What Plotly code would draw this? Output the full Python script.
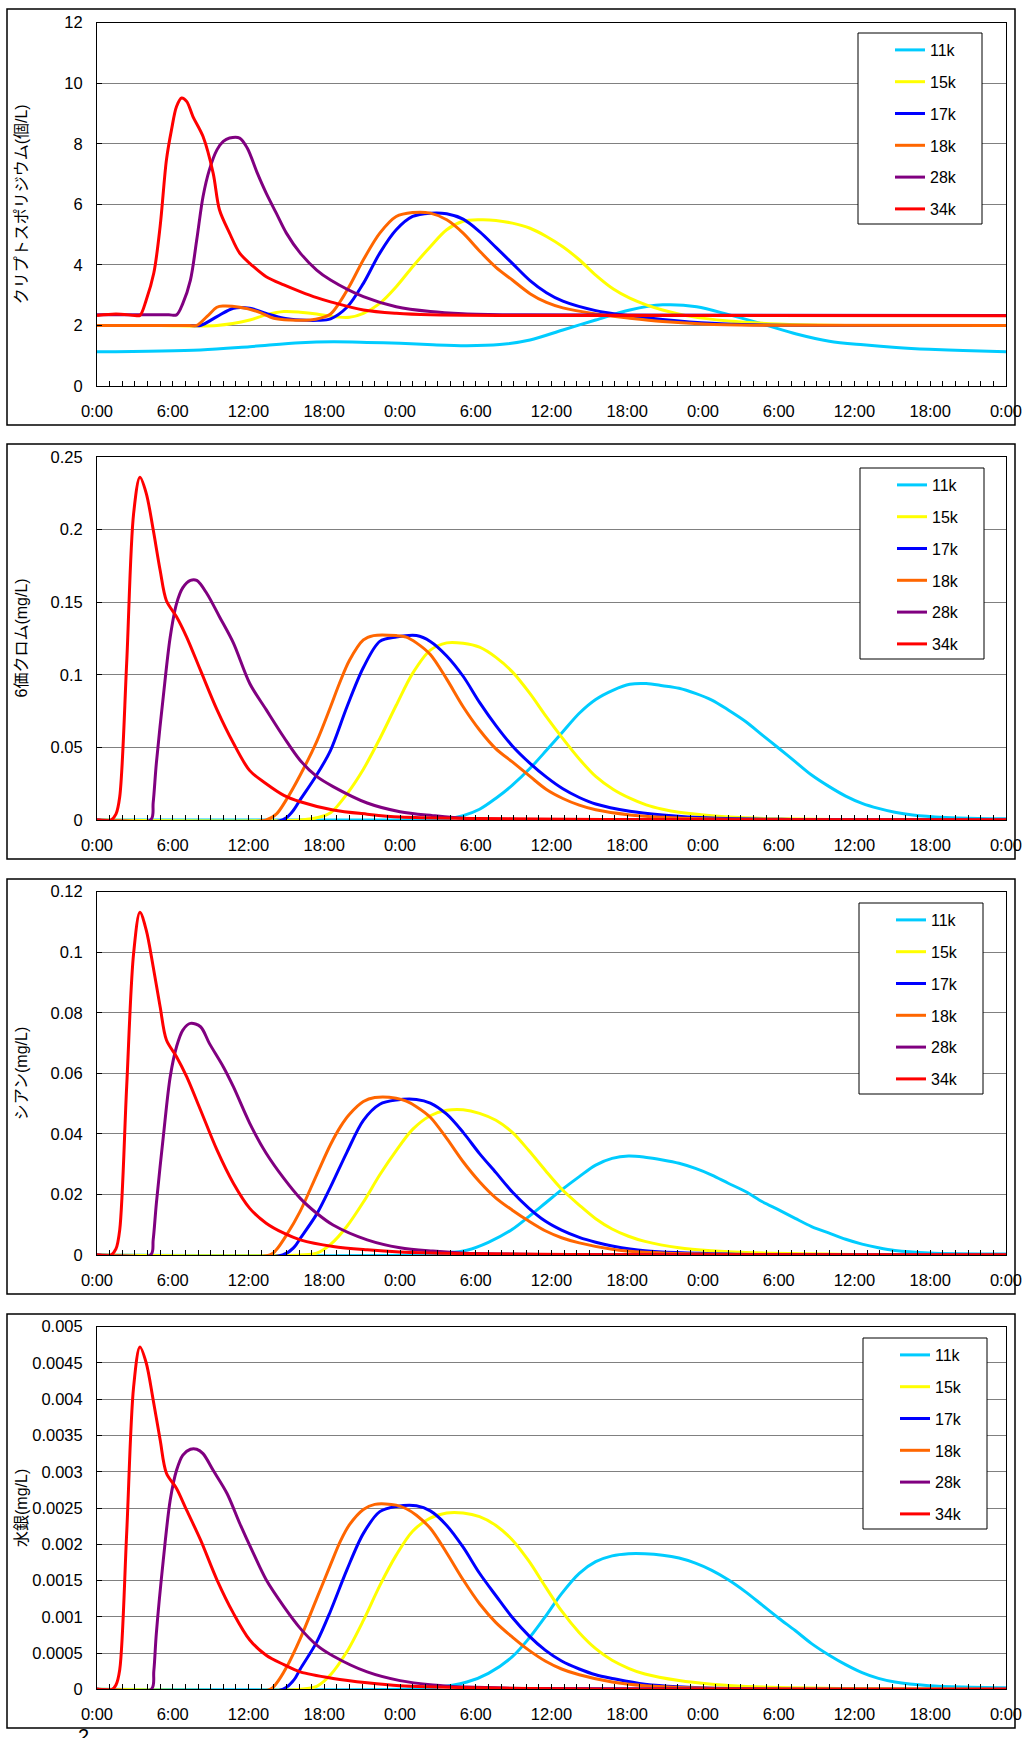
import plotly.graph_objects as go

# ---------------- data (hours from start, values) ----------------
SERIES = ["11k", "15k", "17k", "18k", "28k", "34k"]
COLORS = ["#00CCFF", "#FFFF00", "#0000FF", "#FF6600", "#800080", "#FF0000"]

TICK_HOURS = [0, 6, 12, 18, 24, 30, 36, 42, 48, 54, 60, 66, 72]
TICK_LABELS = ["0:00", "6:00", "12:00", "18:00", "0:00", "6:00", "12:00",
               "18:00", "0:00", "6:00", "12:00", "18:00", "0:00"]

Y_TITLES = ["クリプトスポリジウム(個/L)", "6価クロム(mg/L)", "シアン(mg/L)", "水銀(mg/L)"]
Y_MAX = [12, 0.25, 0.12, 0.005]
Y_STEP = [2, 0.05, 0.02, 0.0005]

# Panel 1: Cryptosporidium
CRY_11K_T = [0, 8.2, 12.1, 16.1, 18.7, 21.4, 24, 26.6, 29.3, 31.9, 34.3, 36.9, 39.5, 42.2, 44.8,
             47.5, 50.1, 52.7, 55.4, 58, 60.7, 63.3, 65.9, 68.6, 72]
CRY_11K = [1.13, 1.19, 1.30, 1.43, 1.46, 1.44, 1.41, 1.36, 1.33, 1.37, 1.52, 1.85, 2.18, 2.51, 2.68,
           2.62, 2.35, 2.05, 1.72, 1.48, 1.36, 1.27, 1.21, 1.17, 1.13]
CRY_15K_T = [0, 5, 9.5, 12.1, 13.4, 14.8, 16.1, 17.4, 18.5, 20.0, 21.1, 22.4, 23.7, 25.0, 26.4, 27.7,
             29.0, 30.3, 31.6, 32.9, 34.3, 35.6, 36.9, 38.2, 39.5, 40.9, 42.2, 43.5, 44.8, 47, 50,
             54, 58, 72]
CRY_15K = [2.0, 2.0, 2.0, 2.18, 2.35, 2.46, 2.44, 2.38, 2.3, 2.27, 2.4, 2.73, 3.28, 3.94, 4.6, 5.16,
           5.44, 5.49, 5.47, 5.38, 5.21, 4.94, 4.6, 4.17, 3.66, 3.2, 2.9, 2.68, 2.51, 2.3, 2.15,
           2.05, 2.01, 2.0]
CRY_17K_T = [0, 4, 7.5, 8.2, 9.5, 10.8, 12.1, 13.4, 14.8, 16.1, 17.5, 18.5, 19.8, 21.1, 22.4, 23.7,
             25.0, 26.4, 27.7, 29.0, 30.3, 31.6, 32.9, 34.3, 35.6, 36.9, 39.5, 42.2, 44.8, 48.7, 52, 72]
CRY_17K = [2.0, 2.0, 2.0, 2.0, 2.29, 2.57, 2.57, 2.40, 2.24, 2.18, 2.17, 2.22, 2.6, 3.39, 4.39, 5.16,
           5.60, 5.71, 5.69, 5.51, 5.10, 4.58, 4.05, 3.48, 3.08, 2.8, 2.49, 2.32, 2.2, 2.07, 2.02, 2.0]
CRY_18K_T = [0, 4, 7.3, 7.9, 8.7, 9.5, 10.0, 11.3, 12.7, 14.0, 15.3, 16.9, 17.7, 18.5, 19.2, 20.0,
             21.1, 22.4, 23.7, 25.0, 26.4, 27.7, 29.0, 30.3, 31.6, 32.9, 34.3, 35.6, 36.9, 39.5,
             42.2, 44.8, 48, 52, 72]
CRY_18K = [2.0, 2.0, 2.0, 2.0, 2.29, 2.6, 2.64, 2.6, 2.46, 2.24, 2.18, 2.18, 2.24, 2.38, 2.75, 3.3,
           4.17, 5.05, 5.6, 5.73, 5.71, 5.49, 5.05, 4.46, 3.92, 3.5, 3.05, 2.76, 2.58, 2.38,
           2.24, 2.13, 2.05, 2.01, 2.0]
CRY_28K_T = [0, 3, 5.7, 6.3, 6.8, 7.4, 7.9, 8.4, 8.9, 9.5, 10.0, 10.5, 11.3, 11.9, 12.7, 13.4, 14.2,
             15.0, 16.1, 17.4, 18.5, 21.1, 23.7, 26.4, 29.0, 34, 72]
CRY_28K = [2.35, 2.35, 2.35, 2.35, 2.73, 3.5, 4.83, 6.26, 7.14, 7.80, 8.08, 8.19, 8.19, 7.86, 7.03,
           6.37, 5.71, 5.05, 4.39, 3.83, 3.5, 2.95, 2.62, 2.46, 2.39, 2.35, 2.33]
CRY_34K_T = [0, 1.5, 3.0, 3.4, 3.9, 4.5, 5.0, 5.5, 5.9, 6.3, 6.7, 7.1, 7.6, 8.4, 9.2, 9.7, 10.5, 11.3,
             12.4, 13.4, 14.8, 16.1, 17.4, 18.5, 21.1, 23.7, 26.4, 34, 72]
CRY_34K = [2.33, 2.38, 2.33, 2.33, 2.84, 3.73, 5.27, 7.47, 8.46, 9.23, 9.51, 9.40, 8.9, 8.24, 7.03, 5.82,
           5.05, 4.39, 3.94, 3.61, 3.34, 3.12, 2.92, 2.78, 2.51, 2.40, 2.35, 2.33, 2.32]

# Panel 2: hexavalent chromium
CR_11K_T = [0, 24, 26.6, 27.7, 29.0, 30.3, 31.6, 32.9, 34.3, 35.6, 36.9, 38.2, 39.5, 40.9, 42.2, 43.5,
            44.8, 46.1, 47.4, 48.7, 50.0, 51.4, 52.7, 54.0, 55.3, 56.6, 58.0, 59.3, 60.6, 61.9, 63.2,
            64.6, 67.2, 69.8, 72]
CR_11K = [0, 0, 0.0003, 0.0008, 0.003, 0.0074, 0.015, 0.024, 0.0356, 0.048, 0.0608, 0.0735, 0.083,
          0.0895, 0.0935, 0.094, 0.0925, 0.0907, 0.0872, 0.0826, 0.0758, 0.0677, 0.0585, 0.0494, 0.0402,
          0.031, 0.023, 0.0165, 0.0115, 0.008, 0.0053, 0.0034, 0.0017, 0.001, 0.0008]
CR_15K_T = [0, 16.1, 17.4, 18.5, 19.8, 21.1, 22.4, 23.7, 25.0, 26.4, 27.7, 29.0, 30.3, 31.6, 32.9, 34.3,
            35.6, 36.9, 38.2, 39.5, 40.9, 42.2, 43.5, 44.8, 46.1, 48.7, 51.4, 54, 60, 72]
CR_15K = [0, 0, 0.0015, 0.005, 0.018, 0.035, 0.056, 0.079, 0.101, 0.117, 0.122, 0.1217, 0.119, 0.112,
          0.102, 0.087, 0.071, 0.056, 0.042, 0.030, 0.021, 0.015, 0.0104, 0.0074, 0.0053, 0.003,
          0.0015, 0.0008, 0.0003, 0]
CR_17K_T = [0, 14.7, 15.5, 16.1, 17.4, 18.5, 19.8, 21.1, 22.4, 23.7, 25.3, 26.4, 27.7, 29.0, 30.3, 31.6,
            32.9, 34.3, 35.6, 36.9, 38.2, 39.5, 42.2, 44.8, 48.7, 55, 72]
CR_17K = [0, 0, 0.006, 0.014, 0.031, 0.048, 0.078, 0.105, 0.123, 0.126, 0.127, 0.123, 0.113, 0.099,
          0.081, 0.065, 0.051, 0.039, 0.0295, 0.0215, 0.0155, 0.011, 0.006, 0.0035, 0.0013, 0.0004, 0]
CR_18K_T = [0, 13.4, 14.2, 15.0, 16.1, 17.4, 18.5, 19.2, 20.0, 21.1, 21.9, 23.7, 24.5, 25.3, 26.4, 27.7,
            29.0, 30.3, 31.6, 32.9, 34.3, 35.6, 36.9, 38.2, 39.5, 42.2, 44.8, 48, 54, 72]
CR_18K = [0, 0, 0.004, 0.014, 0.031, 0.054, 0.078, 0.094, 0.110, 0.124, 0.127, 0.127, 0.126, 0.122,
          0.114, 0.097, 0.078, 0.062, 0.049, 0.040, 0.030, 0.021, 0.0148, 0.0102, 0.007, 0.0035,
          0.0019, 0.0008, 0.0002, 0]
CR_28K_T = [0, 4.25, 4.45, 4.7, 5.25, 5.8, 6.3, 6.8, 7.4, 7.9, 8.7, 9.7, 10.8, 12.1, 13.4, 14.8, 16.1,
            17.4, 18.7, 21.4, 24, 26.6, 29.3, 35, 72]
CR_28K = [0, 0, 0.012, 0.039, 0.085, 0.126, 0.149, 0.160, 0.165, 0.165, 0.156, 0.140, 0.122, 0.094,
          0.076, 0.057, 0.041, 0.030, 0.023, 0.0117, 0.0057, 0.003, 0.001, 0.0003, 0]
CR_34K_T = [0, 1.1, 1.5, 1.8, 2.35, 2.9, 3.4, 3.9, 4.45, 5.0, 5.5, 6.3, 7.1, 8.2, 9.5, 10.8, 12.1, 13.4,
            14.8, 16.1, 18.7, 21.4, 24, 30, 40, 72]
CR_34K = [0, 0, 0.004, 0.016, 0.108, 0.211, 0.236, 0.225, 0.2, 0.172, 0.151, 0.140, 0.126, 0.103,
          0.076, 0.053, 0.034, 0.025, 0.017, 0.0126, 0.0069, 0.004, 0.002, 0.001, 0.0003, 0]

# Panel 3: cyanide
CN_11K_T = [0, 25, 27.5, 29.3, 31, 32.9, 34.2, 35.5, 36.8, 38.2, 39.5, 40.8, 42.1, 43.4, 44.8, 46.1, 47.4,
            48.7, 50.0, 51.4, 52.7, 54.0, 55.3, 56.6, 58.0, 59.3, 60.6, 61.9, 63.2, 65.9, 72]
CN_11K = [0, 0, 0.0006, 0.0016, 0.0042, 0.0085, 0.0127, 0.0171, 0.0215, 0.0259, 0.0297, 0.0319, 0.0327,
          0.0323, 0.0314, 0.0303, 0.0286, 0.0264, 0.0237, 0.0209, 0.0176, 0.0149, 0.0121, 0.0094, 0.0072,
          0.0052, 0.0036, 0.0024, 0.0015, 0.0007, 0.0003]
CN_15K_T = [0, 16.1, 17.4, 18.5, 19.8, 21.1, 22.4, 23.7, 25.0, 26.4, 27.7, 29.0, 30.3, 31.6, 32.9, 34.2,
            35.5, 36.8, 38.2, 39.5, 40.8, 42.1, 43.4, 46.1, 48.7, 51.4, 60, 72]
CN_15K = [0, 0, 0.0006, 0.0035, 0.0095, 0.0175, 0.0265, 0.0345, 0.0415, 0.046, 0.0478, 0.048, 0.0468,
          0.0445, 0.0405, 0.0345, 0.028, 0.0218, 0.0165, 0.012, 0.0086, 0.0062, 0.0045, 0.0024, 0.0014,
          0.0008, 0.0002, 0]
CN_17K_T = [0, 14.7, 15.6, 16.1, 17.4, 18.5, 19.8, 21.1, 22.4, 23.7, 25.3, 26.4, 27.7, 29.0, 30.3, 31.6,
            32.9, 34.2, 35.5, 36.8, 38.2, 39.5, 40.8, 43.4, 50, 72]
CN_17K = [0, 0, 0.0025, 0.0055, 0.0135, 0.0225, 0.034, 0.0445, 0.0498, 0.0512, 0.0514, 0.0502, 0.0465,
          0.0405, 0.0335, 0.0272, 0.0208, 0.0155, 0.0112, 0.0082, 0.0058, 0.0042, 0.003, 0.0014, 0.0003, 0]
CN_18K_T = [0, 13.7, 14.2, 15.0, 16.1, 17.4, 18.5, 19.3, 20.0, 21.1, 22.0, 23.7, 24.5, 25.3, 26.4, 27.7,
            29.0, 30.3, 31.6, 32.9, 34.2, 35.5, 36.8, 38.2, 40.8, 43.4, 50, 72]
CN_18K = [0, 0, 0.0017, 0.0065, 0.0145, 0.0265, 0.0365, 0.0425, 0.0465, 0.0507, 0.052, 0.0518, 0.0508,
          0.049, 0.0455, 0.0385, 0.0308, 0.0242, 0.0188, 0.0148, 0.0112, 0.008, 0.0057, 0.004, 0.0019,
          0.0009, 0.0002, 0]
CN_28K_T = [0, 4.25, 4.45, 4.7, 5.25, 5.8, 6.3, 6.8, 7.4, 8.2, 8.9, 10.0, 10.8, 12.1, 13.4, 14.8, 16.1,
            17.4, 18.7, 21.4, 24, 26.6, 29.3, 35, 72]
CN_28K = [0, 0, 0.005, 0.017, 0.039, 0.0589, 0.0688, 0.0743, 0.0765, 0.0754, 0.0699, 0.0622, 0.0556,
          0.0435, 0.0336, 0.0253, 0.0187, 0.0138, 0.0099, 0.005, 0.0024, 0.0013, 0.0006, 0.0002, 0]
CN_34K_T = [0, 1.1, 1.5, 1.8, 2.35, 2.9, 3.4, 3.9, 4.45, 5.0, 5.5, 6.3, 7.1, 8.2, 9.5, 10.8, 12.1, 13.4,
            14.8, 16.1, 18.7, 21.4, 24, 30, 40, 72]
CN_34K = [0, 0, 0.002, 0.0083, 0.0556, 0.0996, 0.1132, 0.1073, 0.0952, 0.082, 0.071, 0.0655, 0.0589,
          0.0479, 0.0347, 0.0237, 0.0154, 0.0105, 0.0072, 0.005, 0.0028, 0.0017, 0.001, 0.0004, 0.0001, 0]

# Panel 4: mercury
HG_11K_T = [0, 24, 26.6, 29.3, 31, 32.9, 34.2, 35.5, 36.8, 38.2, 39.5, 40.8, 42.1, 43.4, 44.8, 46.1, 47.4,
            48.7, 50.0, 51.4, 52.7, 54.0, 55.3, 56.6, 58.0, 59.3, 60.6, 61.9, 63.2, 65.9, 68.6, 72]
HG_11K = [0, 0, 0.00002, 0.0001, 0.00022, 0.00045, 0.0007, 0.001, 0.00132, 0.0016, 0.00176, 0.00184,
          0.00187, 0.00187, 0.00185, 0.00181, 0.00174, 0.00164, 0.00151, 0.00134, 0.00116, 0.00098,
          0.00081, 0.00063, 0.00047, 0.00034, 0.00023, 0.00015, 0.0001, 0.00005, 0.00003, 0.00002]
HG_15K_T = [0, 16.1, 17.4, 18.5, 19.8, 21.1, 22.4, 23.7, 25.0, 26.4, 27.7, 29.0, 30.3, 31.6, 32.9, 34.2,
            35.5, 36.8, 38.2, 39.5, 40.8, 42.1, 43.4, 46.1, 48.7, 51.4, 60, 72]
HG_15K = [0, 0, 0.00004, 0.0002, 0.00052, 0.00095, 0.00143, 0.00185, 0.00218, 0.00236, 0.00243,
          0.00243, 0.00238, 0.00226, 0.00206, 0.00177, 0.00142, 0.00108, 0.00078, 0.00056, 0.0004,
          0.00029, 0.00021, 0.00012, 0.00007, 0.00004, 0.00001, 0]
HG_17K_T = [0, 14.7, 15.6, 16.1, 17.4, 18.5, 19.8, 21.1, 22.4, 23.7, 25.3, 26.4, 27.7, 29.0, 30.3, 31.6,
            32.9, 34.2, 35.5, 36.8, 38.2, 39.5, 40.8, 43.4, 50, 72]
HG_17K = [0, 0, 0.00013, 0.00028, 0.00065, 0.00108, 0.00165, 0.00215, 0.00245, 0.00252, 0.00253,
          0.00246, 0.00226, 0.00196, 0.0016, 0.00129, 0.00099, 0.00074, 0.00054, 0.00039, 0.00028,
          0.0002, 0.00015, 0.00007, 0.00001, 0]
HG_18K_T = [0, 13.7, 14.2, 15.0, 16.1, 17.4, 18.5, 19.3, 20.0, 21.1, 22.0, 23.7, 24.5, 25.3, 26.4, 27.7,
            29.0, 30.3, 31.6, 32.9, 34.2, 35.5, 36.8, 38.2, 40.8, 43.4, 50, 72]
HG_18K = [0, 0, 0.00008, 0.0003, 0.0007, 0.00125, 0.00172, 0.00205, 0.00227, 0.00248, 0.00255, 0.00254,
          0.00249, 0.0024, 0.00222, 0.00188, 0.00151, 0.00118, 0.00092, 0.00072, 0.00054, 0.00039,
          0.00028, 0.0002, 0.0001, 0.00005, 0.00001, 0]
HG_28K_T = [0, 4.3, 4.5, 4.7, 5.25, 5.8, 6.3, 6.8, 7.4, 7.9, 8.4, 9.2, 10.3, 11.3, 12.4, 13.4, 14.8, 16.1,
            17.4, 18.7, 21.4, 24, 26.6, 29.3, 35, 72]
HG_28K = [0, 0, 0.00025, 0.00077, 0.00178, 0.00261, 0.00302, 0.00323, 0.00331, 0.00331, 0.00325, 0.00302,
          0.0027, 0.00229, 0.00187, 0.00151, 0.00114, 0.00084, 0.00061, 0.00046, 0.00024, 0.00012,
          0.00006, 0.00003, 0.00001, 0]
HG_34K_T = [0, 1.2, 1.5, 1.8, 2.35, 2.9, 3.4, 3.9, 4.45, 5.0, 5.5, 6.3, 7.1, 8.2, 9.5, 10.8, 12.1, 13.4,
            14.8, 16.1, 18.7, 21.4, 24, 30, 40, 72]
HG_34K = [0, 0, 0.00006, 0.00027, 0.00215, 0.00417, 0.00472, 0.0045, 0.00399, 0.00344, 0.00298, 0.00277,
          0.00247, 0.00206, 0.00151, 0.00105, 0.00068, 0.00047, 0.00034, 0.00024, 0.00015, 0.00009,
          0.00005, 0.00002, 0, 0]

PANELS = [
    [(CRY_11K_T, CRY_11K), (CRY_15K_T, CRY_15K), (CRY_17K_T, CRY_17K),
     (CRY_18K_T, CRY_18K), (CRY_28K_T, CRY_28K), (CRY_34K_T, CRY_34K)],
    [(CR_11K_T, CR_11K), (CR_15K_T, CR_15K), (CR_17K_T, CR_17K),
     (CR_18K_T, CR_18K), (CR_28K_T, CR_28K), (CR_34K_T, CR_34K)],
    [(CN_11K_T, CN_11K), (CN_15K_T, CN_15K), (CN_17K_T, CN_17K),
     (CN_18K_T, CN_18K), (CN_28K_T, CN_28K), (CN_34K_T, CN_34K)],
    [(HG_11K_T, HG_11K), (HG_15K_T, HG_15K), (HG_17K_T, HG_17K),
     (HG_18K_T, HG_18K), (HG_28K_T, HG_28K), (HG_34K_T, HG_34K)],
]

# ---------------- layout geometry (pixels) ----------------
W, H = 1024, 1738
FONT = "Liberation Sans, Arial, Noto Sans CJK JP, sans-serif"
PLOT_X = (97, 1006)
PLOT_Y = [(22.7, 386), (457, 820), (891.7, 1255), (1326.7, 1689.3)]
BORDER_X = (7, 1015)
BORDER_Y = [(9, 425), (444, 859), (879, 1294), (1314, 1728)]
LEG_BOX = [(858, 33, 982, 224), (860, 468, 984, 659), (859, 903, 983, 1094), (863, 1338, 987, 1529)]


def px(x):
    return x / W


def py(y):
    return 1 - y / H


fig = go.Figure()
layout = dict(
    template="none",
    width=W, height=H, margin=dict(l=0, r=0, t=0, b=0, pad=0, autoexpand=False),
    paper_bgcolor="white", plot_bgcolor="white",
    font=dict(family=FONT, size=16, color="black"),
    showlegend=True, shapes=[], annotations=[],
)

for i, panel in enumerate(PANELS):
    n = "" if i == 0 else str(i + 1)
    leg = "legend" if i == 0 else f"legend{i + 1}"
    for (t, v), name, col in zip(panel, SERIES, COLORS):
        fig.add_trace(go.Scatter(
            x=t, y=v, mode="lines", name=name,
            line=dict(color=col, width=3, shape="spline", smoothing=0.9),
            xaxis=f"x{n}", yaxis=f"y{n}", legend=leg,
            legendgroup=f"{leg}_{name}", hoverinfo="skip",
        ))
    top, bot = PLOT_Y[i]
    layout[f"xaxis{n}"] = dict(
        domain=[px(PLOT_X[0]), px(PLOT_X[1])], anchor=f"y{n}",
        range=[0, 72], tickmode="array", tickvals=TICK_HOURS, ticktext=TICK_LABELS,
        ticks="inside", ticklen=5, tickcolor="black", tickwidth=1,
        minor=dict(tickmode="linear", tick0=0, dtick=1, ticks="inside", ticklen=5,
                   tickcolor="black", showgrid=False),
        showline=True, linecolor="black", linewidth=1, mirror=True, automargin=False,
        showgrid=False, zeroline=False, ticklabelstandoff=10,
        tickfont=dict(family=FONT, size=16.5, color="black"),
    )
    layout[f"yaxis{n}"] = dict(
        domain=[py(bot), py(top)], anchor=f"x{n}",
        range=[0, Y_MAX[i]], tickmode="linear", tick0=0, dtick=Y_STEP[i],
        tickformat="~g", ticks="inside", ticklen=5, tickcolor="black",
        showline=True, linecolor="black", linewidth=1, mirror=True, automargin=False,
        showgrid=True, gridcolor="#808080", gridwidth=1, zeroline=False,
        ticklabelstandoff=10, tickfont=dict(family=FONT, size=16.5, color="black"),
    )
    # outer chart border
    layout["shapes"].append(dict(
        type="rect", xref="paper", yref="paper",
        x0=px(BORDER_X[0]), x1=px(BORDER_X[1]), y0=py(BORDER_Y[i][1]), y1=py(BORDER_Y[i][0]),
        line=dict(color="black", width=1.5), fillcolor="rgba(0,0,0,0)", layer="below",
    ))
    # legend box
    lx0, ly0, lx1, ly1 = LEG_BOX[i]
    layout["shapes"].append(dict(
        type="rect", xref="paper", yref="paper",
        x0=px(lx0), x1=px(lx1), y0=py(ly1), y1=py(ly0),
        line=dict(color="black", width=1), fillcolor="white", layer="above",
    ))
    layout[leg] = dict(
        x=px(lx0 + 32), y=py(ly0), xanchor="left", yanchor="top",
        bgcolor="rgba(0,0,0,0)", borderwidth=0, tracegroupgap=8,
        font=dict(family=FONT, size=16, color="black"),
    )
    # y-axis title
    layout["annotations"].append(dict(
        text=Y_TITLES[i], xref="paper", yref="paper", x=px(21), y=py((top + bot) / 2),
        xanchor="center", yanchor="middle", textangle=-90, showarrow=False,
        font=dict(family=FONT, size=16, color="black"),
    ))

# page number at the bottom, partly cut off
layout["annotations"].append(dict(
    text="2", xref="paper", yref="paper", x=px(83), y=py(1723), xanchor="center",
    yanchor="top", showarrow=False, font=dict(family=FONT, size=20, color="black"),
))

fig.update_layout(**layout)
fig.write_html(
    "out.html",
    config={"displayModeBar": False},
    post_script="document.body.style.margin='0';document.body.style.overflow='hidden';",
)
